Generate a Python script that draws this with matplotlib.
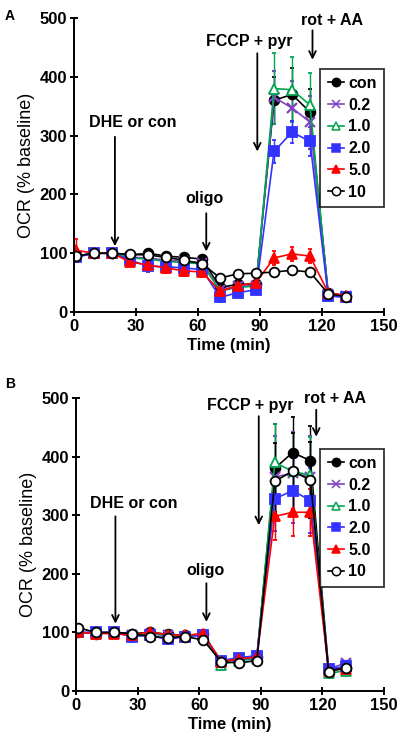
import numpy as np
import matplotlib.pyplot as plt
from matplotlib.lines import Line2D

plt.rcParams['font.family'] = ['Liberation Sans', 'DejaVu Sans']
plt.rcParams['font.weight'] = 'bold'

# time points (min)
t = [1, 9.7, 18.5, 27.2, 36, 44.6, 53.3, 62, 70.7, 79.4, 88.1, 96.8, 105.5, 114.2, 123, 131.7]
labels = ["con", "0.2", "1.0", "2.0", "5.0", "10"]

# Panel A values (% baseline)
a_con = [95, 100, 100, 97, 100, 95, 93, 90, 42, 47, 48, 360, 370, 340, 32, 28]
a_02 = [95, 100, 100, 93, 92, 88, 86, 84, 38, 44, 45, 365, 347, 323, 30, 27]
a_10 = [95, 100, 100, 92, 90, 86, 84, 82, 36, 42, 44, 380, 378, 352, 28, 27]
a_20 = [93, 100, 100, 88, 78, 77, 75, 72, 25, 33, 38, 273, 306, 290, 27, 25]
a_50 = [105, 100, 100, 85, 80, 75, 70, 68, 35, 45, 50, 92, 99, 95, 33, 28]
a_100 = [95, 100, 100, 98, 97, 93, 88, 82, 58, 65, 66, 68, 71, 68, 31, 26]
# Panel A errors
ea_con = [5, 3, 3, 4, 5, 5, 5, 5, 6, 6, 6, 40, 45, 40, 5, 5]
ea_02 = [5, 3, 3, 5, 6, 6, 6, 6, 6, 6, 6, 45, 45, 45, 5, 5]
ea_10 = [5, 3, 3, 5, 6, 6, 6, 6, 6, 6, 6, 60, 55, 55, 5, 5]
ea_20 = [6, 3, 3, 6, 10, 8, 8, 8, 8, 8, 8, 20, 18, 25, 5, 5]
ea_50 = [20, 3, 3, 6, 8, 8, 8, 8, 8, 8, 8, 12, 12, 12, 5, 5]
ea_100 = [5, 3, 3, 4, 5, 5, 5, 5, 5, 5, 5, 5, 5, 5, 5, 5]

# Panel B values (% baseline)
b_con = [100, 98, 100, 98, 100, 97, 95, 97, 50, 55, 58, 380, 407, 393, 38, 40]
b_02 = [100, 100, 100, 95, 97, 95, 93, 96, 50, 57, 60, 365, 372, 365, 38, 48]
b_10 = [100, 98, 100, 95, 98, 95, 95, 96, 45, 52, 55, 390, 375, 368, 30, 35]
b_20 = [100, 100, 100, 93, 95, 88, 93, 95, 52, 57, 60, 328, 342, 325, 38, 42]
b_50 = [100, 98, 98, 95, 101, 96, 95, 98, 50, 55, 58, 298, 305, 305, 35, 38]
b_100 = [108, 100, 100, 98, 93, 91, 93, 87, 50, 48, 52, 358, 375, 360, 33, 40]
# Panel B errors
eb_con = [4, 3, 3, 4, 4, 4, 4, 4, 4, 4, 4, 75, 60, 60, 4, 4]
eb_02 = [4, 3, 3, 4, 4, 4, 4, 4, 4, 4, 4, 70, 70, 70, 4, 4]
eb_10 = [4, 3, 3, 4, 4, 4, 4, 4, 4, 4, 4, 65, 65, 65, 4, 4]
eb_20 = [4, 3, 3, 4, 4, 4, 4, 4, 4, 4, 4, 55, 55, 55, 4, 4]
eb_50 = [4, 3, 3, 4, 4, 4, 4, 4, 4, 4, 4, 40, 40, 40, 4, 4]
eb_100 = [4, 3, 3, 4, 4, 4, 4, 4, 4, 4, 4, 65, 65, 65, 4, 4]

# series styles: color, marker, face
styles = [("black", "o", "black"),
          ("#8040C0", "x", "#8040C0"),
          ("#00A550", "^", "white"),
          ("#3333FF", "s", "#3333FF"),
          ("#FF0000", "^", "#FF0000"),
          ("black", "o", "white")]

# arrows: (text, text x, text y, arrow x, arrow y start, arrow y end)
arrows_a = [("DHE or con", 28.3, 309, 19.8, 298, 112),
            ("oligo", 63, 180, 64, 168, 103),
            ("FCCP + pyr", 84.7, 447, 88.7, 440, 273),
            ("rot + AA", 125, 483, 115.4, 479, 429)]
arrows_b = [("DHE or con", 28.3, 307, 19.2, 298, 115),
            ("oligo", 63, 193, 63.5, 184, 118),
            ("FCCP + pyr", 84.7, 474, 89, 469, 283),
            ("rot + AA", 126, 486, 117, 480, 434)]

fig = plt.figure(figsize=(4.0, 7.49), dpi=100)
ax_a = fig.add_axes([0.185, 0.5834, 0.775, 0.3926])
ax_b = fig.add_axes([0.19, 0.0774, 0.77, 0.3912])

panels = [(ax_a, [a_con, a_02, a_10, a_20, a_50, a_100], [ea_con, ea_02, ea_10, ea_20, ea_50, ea_100], arrows_a),
          (ax_b, [b_con, b_02, b_10, b_20, b_50, b_100], [eb_con, eb_02, eb_10, eb_20, eb_50, eb_100], arrows_b)]

for ax, series, errs, arrows in panels:
    handles = []
    for vals, err, lab, (col, mk, face) in zip(series, errs, labels, styles):
        ax.errorbar(t, vals, yerr=err, color=col, marker=mk, markerfacecolor=face,
                    markeredgecolor=col, markersize=7 if mk != "^" else 7.5,
                    markeredgewidth=1.3 if mk != "x" else 1.6,
                    linewidth=1.2, elinewidth=1.0, capsize=1.5)
        handles.append(Line2D([], [], color=col, marker=mk, markerfacecolor=face,
                              markeredgecolor=col, markersize=6, linewidth=1.2,
                              markeredgewidth=1.1, label=lab))
    ax.set_xlim(0, 150)
    ax.set_ylim(0, 500)
    ax.set_xticks([0, 30, 60, 90, 120, 150])
    ax.set_yticks([0, 100, 200, 300, 400, 500])
    for s in ["top", "right"]:
        ax.spines[s].set_visible(False)
    for s in ["left", "bottom"]:
        ax.spines[s].set_linewidth(1.4)
    ax.tick_params(axis="both", width=1.4, length=6, labelsize=12, direction="inout", pad=2)
    for lbl in ax.get_xticklabels() + ax.get_yticklabels():
        lbl.set_fontweight("bold")
    ax.set_xlabel("Time (min)", fontsize=12, fontweight="bold", labelpad=3)
    ax.set_ylabel("OCR (% baseline)", fontsize=13, fontweight="normal", labelpad=3)
    for txt, tx, ty, axx, y0, y1 in arrows:
        ax.annotate("", xy=(axx, y1), xytext=(axx, y0),
                    arrowprops=dict(arrowstyle="->", color="black", lw=1.3,
                                    mutation_scale=12, shrinkA=0, shrinkB=0))
        ax.text(tx, ty, txt, ha="center", va="bottom", fontsize=11.5, fontweight="bold",
                clip_on=False)
    leg = ax.legend(handles=handles, loc="upper right", bbox_to_anchor=(1.0, 0.827), fontsize=11.5,
                    frameon=True, fancybox=False, edgecolor="black", handlelength=1.0,
                    handletextpad=0.3, borderpad=0.45, labelspacing=0.42, borderaxespad=0)
    leg.get_frame().set_linewidth(1.3)
    for txt in leg.get_texts():
        txt.set_fontweight("bold")

fig.text(0.012, 0.988, "A", fontsize=10, fontweight="bold", va="top")
fig.text(0.012, 0.497, "B", fontsize=10, fontweight="bold", va="top")

fig.savefig("out.png", dpi=100)
